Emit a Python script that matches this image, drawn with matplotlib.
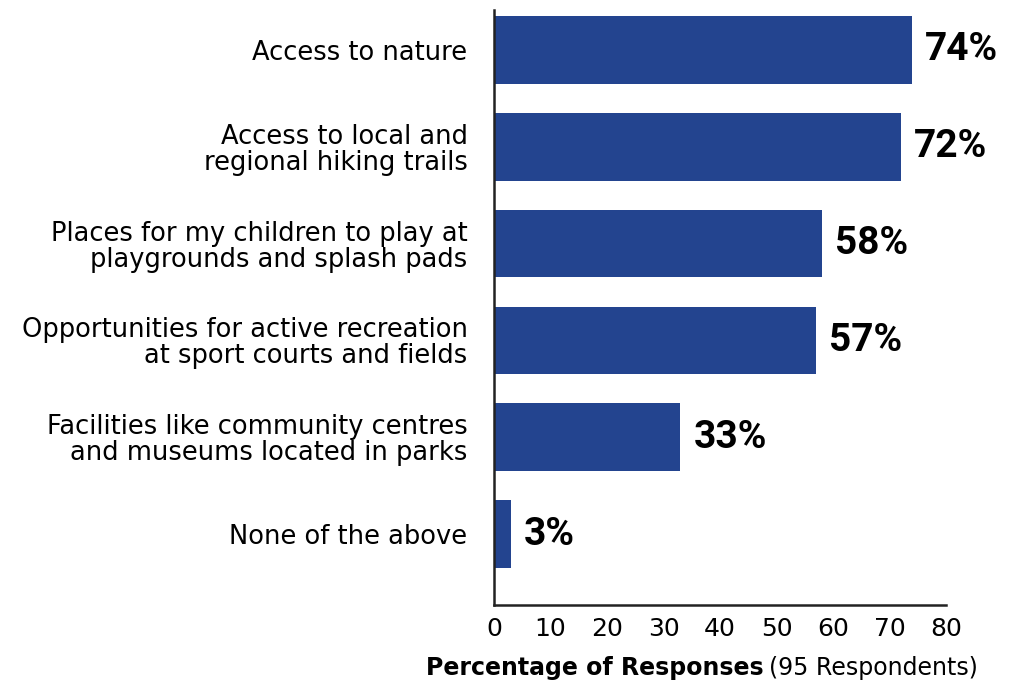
import matplotlib
matplotlib.use("Agg")
import matplotlib.pyplot as plt

categories = [
    "Access to nature",
    "Access to local and\nregional hiking trails",
    "Places for my children to play at\nplaygrounds and splash pads",
    "Opportunities for active recreation\nat sport courts and fields",
    "Facilities like community centres\nand museums located in parks",
    "None of the above",
]
percent = [74, 72, 58, 57, 33, 3]
x_ticks = [0, 10, 20, 30, 40, 50, 60, 70, 80]

bar_color = "#23448F"
label_font = "DejaVu Sans"

fig = plt.figure(figsize=(10.09, 6.86), dpi=100)
ax = fig.add_axes([0.4896, 0.1181, 0.448, 0.8673])

pos = list(range(len(categories)))
ax.barh(pos, percent, height=0.70, color=bar_color)

for y, v in zip(pos, percent):
    ax.text(v + 2.3, y, f"{v}%", va="center", ha="left",
            fontsize=28, fontweight="bold", family="Roboto", color="black")

ax.set_xlim(0, 80)
ax.set_ylim(5.73, -0.41)
ax.set_yticks(pos)
ax.set_yticklabels(categories, fontsize=18.5, family=label_font,
                   linespacing=1.0, ha="right")
ax.set_xticks(x_ticks)
ax.set_xticklabels([str(t) for t in x_ticks], fontsize=18, family=label_font)
ax.tick_params(axis="both", length=0)
ax.tick_params(axis="y", pad=19)
ax.tick_params(axis="x", pad=9)

for side in ("top", "right"):
    ax.spines[side].set_visible(False)
for side in ("left", "bottom"):
    ax.spines[side].set_color("#222222")
    ax.spines[side].set_linewidth(1.8)

# axis title: bold part followed by the plain respondent count
t1 = fig.text(426 / 1009, 1 - 668 / 686, "Percentage of Responses",
              fontsize=17, fontweight="bold", family=label_font,
              va="center", ha="left")
fig.canvas.draw()
bb = t1.get_window_extent()
fig.text(bb.x1 / fig.bbox.width + 0.005, 1 - 668 / 686, "(95 Respondents)",
         fontsize=17, family=label_font, va="center", ha="left")

fig.savefig("out.png", dpi=100)
